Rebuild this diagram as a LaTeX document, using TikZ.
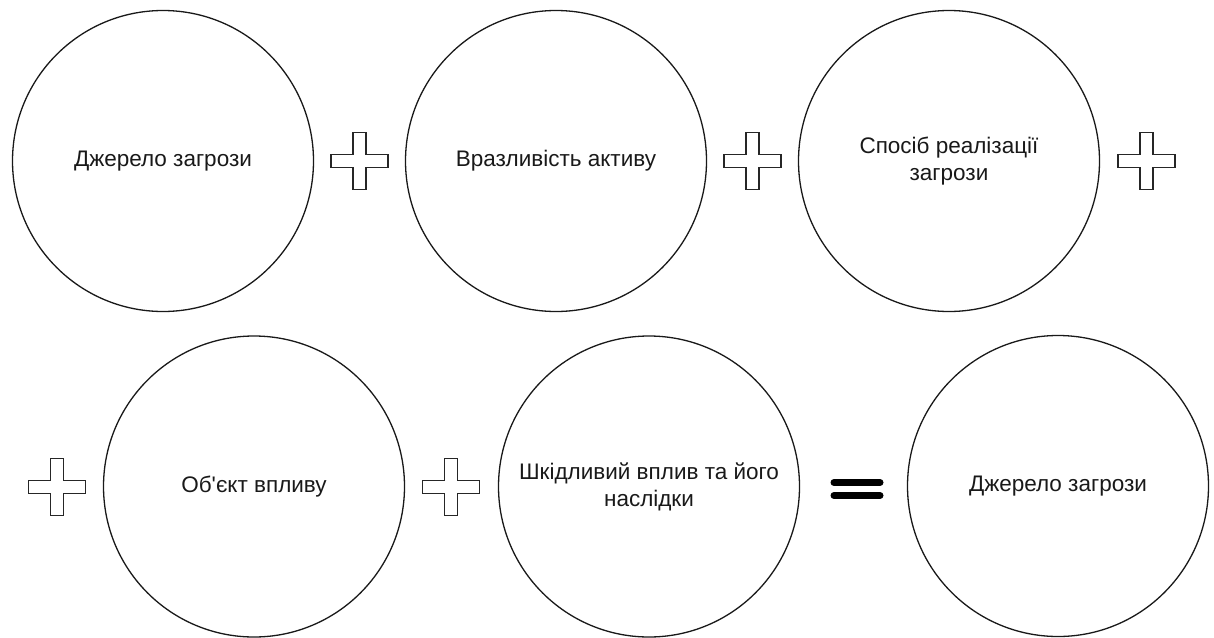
\documentclass[tikz,border=0pt]{standalone}
\usepackage{fontspec}
\setmainfont{Liberation Sans}[Ligatures=TeXOff]
\begin{document}
\begin{tikzpicture}[x=1pt,y=-1pt,
  circ/.style={circle,draw=black!90,line width=1.3pt,minimum size=301pt,inner sep=0pt,
    align=center,text=black!90,font=\fontsize{22.5}{27}\selectfont},
  crossline/.style={draw=black!85,line width=1.4pt,fill=white,line join=miter},
  eqbar/.style={line width=7pt,line cap=round,draw=black},
  plussign/.pic={
    \path[crossline] (-6.5,-28.5) -- (6.5,-28.5) -- (6.5,-6.5) -- (28.5,-6.5) -- (28.5,6.5)
      -- (6.5,6.5) -- (6.5,28.5) -- (-6.5,28.5) -- (-6.5,6.5) -- (-28.5,6.5)
      -- (-28.5,-6.5) -- (-6.5,-6.5) -- cycle;
  }]
\useasboundingbox (0,0) rectangle (1214,637);
\node[circ] (c1) at (163,161) {Джерело загрози};
\node[circ] (c2) at (556,161) {Вразливість активу};
\node[circ] (c3) at (949,161) {Спосіб реалізації\\загрози};
\node[circ] (c4) at (254,486.5) {Об'єкт впливу};
\node[circ] (c5) at (649,486.5) {Шкідливий вплив та його\\наслідки};
\node[circ] (c6) at (1058,486) {Джерело загрози};
\pic (p1) at (359.5,161) {plussign};
\pic (p2) at (752.5,161) {plussign};
\pic (p3) at (1146.5,161) {plussign};
\pic (p4) at (57,487) {plussign};
\pic (p5) at (451,487) {plussign};
\coordinate (eq) at (857,489);
\draw[eqbar] ([shift={(-23,-6.5)}]eq) -- ([shift={(23,-6.5)}]eq);
\draw[eqbar] ([shift={(-23,6.5)}]eq) -- ([shift={(23,6.5)}]eq);
\end{tikzpicture}
\end{document}
